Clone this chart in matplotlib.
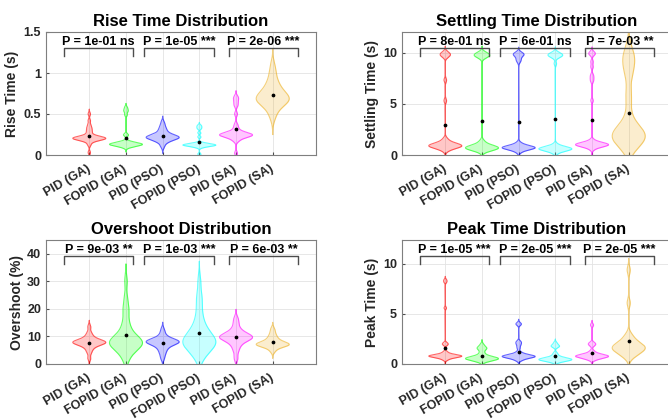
import numpy as np
import matplotlib.pyplot as plt
import matplotlib.transforms as mtransforms

plt.rcParams['font.family'] = ['Liberation Sans', 'DejaVu Sans']
plt.rcParams['font.weight'] = 'bold'
plt.rcParams['axes.labelweight'] = 'bold'
plt.rcParams['axes.titleweight'] = 'bold'

controllers = ['PID (GA)', 'FOPID (GA)', 'PID (PSO)', 'FOPID (PSO)', 'PID (SA)', 'FOPID (SA)']
colors = [(1, 0, 0), (0, 1, 0), (0, 0, 1), (0, 1, 1), (1, 0, 1), (0.93, 0.69, 0.13)]

# samples (one list per controller)
rise_time = [
    [0.03, 0.12, 0.15, 0.17, 0.18, 0.18, 0.19, 0.19, 0.19, 0.20, 0.20, 0.20, 0.20, 0.21, 0.21,
     0.21, 0.21, 0.22, 0.22, 0.22, 0.23, 0.24, 0.26, 0.28, 0.30, 0.32, 0.34, 0.37, 0.42, 0.50],
    [0.09, 0.10, 0.11, 0.11, 0.12, 0.12, 0.12, 0.13, 0.13, 0.13, 0.13, 0.13, 0.14, 0.14, 0.14,
     0.15, 0.15, 0.16, 0.17, 0.24, 0.25, 0.49, 0.53, 0.55, 0.58],
    [0.10, 0.14, 0.16, 0.17, 0.18, 0.19, 0.20, 0.20, 0.21, 0.21, 0.21, 0.22, 0.22, 0.22, 0.23,
     0.23, 0.24, 0.25, 0.26, 0.27, 0.29, 0.31, 0.33, 0.36, 0.40],
    [0.01, 0.09, 0.10, 0.11, 0.11, 0.11, 0.12, 0.12, 0.12, 0.12, 0.12, 0.13, 0.13, 0.13, 0.14,
     0.14, 0.15, 0.22, 0.27, 0.32, 0.34, 0.36],
    [0.02, 0.17, 0.19, 0.21, 0.22, 0.23, 0.23, 0.24, 0.24, 0.24, 0.25, 0.25, 0.25, 0.26, 0.26,
     0.27, 0.28, 0.30, 0.33, 0.37, 0.50, 0.60, 0.64, 0.68, 0.71],
    [0.45, 0.52, 0.56, 0.60, 0.62, 0.64, 0.65, 0.66, 0.67, 0.68, 0.69, 0.70, 0.71, 0.72, 0.74,
     0.76, 0.78, 0.80, 0.83, 0.86, 0.90, 0.95, 1.02, 1.10],
]
settling_time = [
    [0.40, 0.55, 0.65, 0.70, 0.75, 0.80, 0.82, 0.85, 0.88, 0.90, 0.92, 0.95, 0.98, 1.00, 1.05,
     1.10, 1.15, 1.25, 1.40, 1.60, 5.3, 7.3, 9.6, 9.7, 9.8, 9.9, 10.0],
    [0.30, 0.40, 0.50, 0.55, 0.58, 0.60, 0.62, 0.65, 0.68, 0.70, 0.72, 0.75, 0.78, 0.80, 0.85,
     0.90, 0.95, 1.05, 1.20, 1.40, 9.5, 9.6, 9.7, 9.7, 9.8, 9.8, 9.9, 10.0],
    [0.25, 0.40, 0.50, 0.55, 0.60, 0.63, 0.66, 0.68, 0.69, 0.70, 0.72, 0.74, 0.76, 0.78, 0.80,
     0.84, 0.88, 0.95, 1.05, 1.20, 9.1, 9.3, 9.5, 9.7, 9.8, 9.8, 9.9, 10.0],
    [0.15, 0.30, 0.40, 0.45, 0.50, 0.52, 0.55, 0.56, 0.58, 0.60, 0.62, 0.64, 0.66, 0.68, 0.70,
     0.74, 0.80, 0.90, 1.05, 8.9, 9.5, 9.6, 9.7, 9.7, 9.8, 9.8, 9.9, 10.0],
    [0.55, 0.70, 0.80, 0.85, 0.90, 0.93, 0.96, 0.98, 1.00, 1.00, 1.02, 1.04, 1.06, 1.08, 1.10,
     1.15, 1.20, 1.30, 1.45, 5.3, 7.2, 7.5, 7.8, 8.6, 9.1, 9.8, 9.9, 10.0],
    [0.5, 0.8, 1.0, 1.2, 1.4, 1.5, 1.6, 1.7, 1.8, 1.9, 1.9, 2.0, 2.0, 2.1, 2.2, 2.3, 2.5, 2.8,
     3.2, 3.6, 4.8, 5.9, 6.1, 7.9, 8.2, 8.4, 9.2, 9.4, 9.6, 9.8, 10.4],
]
overshoot = [
    [2.0, 4.0, 5.0, 5.8, 6.3, 6.7, 7.0, 7.2, 7.4, 7.6, 7.7, 7.8, 7.9, 8.0, 8.1, 8.2, 8.4, 8.6,
     8.9, 9.3, 9.8, 10.5, 11.5, 13.5],
    [1.0, 3.0, 4.0, 5.0, 5.5, 6.0, 6.5, 7.0, 7.3, 7.5, 7.6, 7.9, 8.0, 8.2, 8.5, 9.0, 9.5, 10.0,
     10.8, 11.8, 13.0, 14.5, 16.5, 19.5, 20.5, 24.0, 30.0],
    [2.0, 3.5, 4.5, 5.3, 6.0, 6.5, 6.9, 7.2, 7.5, 7.7, 7.9, 8.0, 8.1, 8.2, 8.3, 8.5, 8.7, 9.0,
     9.4, 10.0, 11.0, 12.5],
    [1.5, 3.0, 4.0, 5.0, 5.8, 6.0, 6.5, 7.0, 7.4, 7.8, 8.0, 8.2, 8.6, 9.0, 9.5, 10.0, 10.6,
     11.3, 12.0, 13.0, 14.0, 15.5, 17.5, 20.0, 23.0, 25.0, 30.0],
    [2.0, 4.5, 6.0, 7.0, 7.8, 8.4, 8.8, 9.1, 9.3, 9.5, 9.7, 9.9, 10.1, 10.3, 10.6, 11.0, 11.5,
     12.2, 13.2, 14.8, 16.5],
    [4.5, 5.5, 6.0, 6.4, 6.6, 6.8, 6.9, 7.0, 7.1, 7.2, 7.3, 7.5, 7.7, 8.0, 8.3, 8.7, 9.2, 9.8,
     10.5, 11.5, 12.8],
]
peak_time = [
    [0.40, 0.50, 0.58, 0.64, 0.68, 0.70, 0.72, 0.74, 0.75, 0.77, 0.79, 0.80, 0.81, 0.83, 0.85,
     0.86, 0.88, 0.90, 0.95, 1.02, 1.10, 1.25, 1.9, 2.0, 2.1, 5.6, 8.2, 8.4],
    [0.20, 0.30, 0.36, 0.40, 0.44, 0.47, 0.50, 0.52, 0.54, 0.56, 0.58, 0.60, 0.63, 0.66, 0.70,
     0.76, 0.85, 1.00, 1.20, 1.45, 1.55, 1.62, 1.70, 1.95],
    [0.35, 0.45, 0.55, 0.62, 0.66, 0.68, 0.70, 0.73, 0.75, 0.77, 0.79, 0.80, 0.82, 0.85, 0.90,
     0.96, 1.05, 1.20, 1.60, 1.90, 2.10, 2.25, 3.95, 4.05],
    [0.15, 0.25, 0.30, 0.34, 0.37, 0.40, 0.42, 0.44, 0.46, 0.48, 0.50, 0.53, 0.56, 0.60, 0.66,
     0.75, 0.90, 1.10, 1.70, 1.80, 1.85, 2.10],
    [0.40, 0.50, 0.58, 0.64, 0.68, 0.71, 0.74, 0.76, 0.78, 0.80, 0.82, 0.85, 0.88, 0.93, 1.00,
     1.10, 1.30, 1.85, 2.0, 2.1, 3.9],
    [0.60, 0.85, 1.00, 1.15, 1.25, 1.35, 1.45, 1.52, 1.58, 1.64, 1.70, 1.78, 1.86, 1.95, 2.05,
     2.20, 2.40, 2.65, 2.95, 6.1, 9.4],
]

titles = ['Rise Time Distribution', 'Settling Time Distribution',
          'Overshoot Distribution', 'Peak Time Distribution']
ylabels = ['Rise Time (s)', 'Settling Time (s)', 'Overshoot (%)', 'Peak Time (s)']
p_labels = [
    ['P = 1e-01 ns', 'P = 1e-05 ***', 'P = 2e-06 ***'],
    ['P = 8e-01 ns', 'P = 6e-01 ns', 'P = 7e-03 **'],
    ['P = 9e-03 **', 'P = 1e-03 ***', 'P = 6e-03 **'],
    ['P = 1e-05 ***', 'P = 2e-05 ***', 'P = 2e-05 ***'],
]
ytop = [1.5, 12, 45, 12.4]
yticks = [[0, 0.5, 1, 1.5], [0, 5, 10], [0, 10, 20, 30, 40], [0, 5, 10]]
ytick_labels = [['0', '0.5', '1', '1.5'], ['0', '5', '10'],
                ['0', '10', '20', '30', '40'], ['0', '5', '10']]
all_data = [rise_time, settling_time, overshoot, peak_time]

# layout (pixels of a 668x420 figure)
W, H = 668, 420
axes_px = [(46, 32, 270, 123), (402, 32, 270, 123), (46, 240, 270, 124), (402, 240, 270, 124)]
ylabel_x = [12, 372, 17, 372]
bracket_x = [(0.31, 2.19), (2.49, 4.41), (4.80, 6.70)]


def kde_outline(x):
    # ksdensity-like: normal kernel, MAD based bandwidth
    x = np.asarray(x, float)
    n = len(x)
    sig = np.median(np.abs(x - np.median(x))) / 0.6745
    bw = sig * (4.0 / (3.0 * n)) ** 0.2
    grid = np.linspace(x.min() - 3 * bw, x.max() + 3 * bw, 300)
    dens = np.exp(-0.5 * ((grid[:, None] - x[None, :]) / bw) ** 2).sum(axis=1)
    return grid, dens / dens.max()


fig = plt.figure(figsize=(W / 100, H / 100), dpi=100)
fig.patch.set_facecolor('white')
pos = np.arange(1, 7)

for k in range(4):
    l, t, w, h = axes_px[k]
    ax = fig.add_axes([l / W, 1 - (t + h) / H, w / W, h / H])
    ax.set_axisbelow(True)
    ax.grid(True, color='#e3e3e3', lw=0.6)
    for i, vals in enumerate(all_data[k]):
        grid, d = kde_outline(vals)
        hw = d * 0.45
        ax.fill_betweenx(grid, pos[i] - hw, pos[i] + hw, color=colors[i], alpha=0.22, lw=0)
        ax.plot(np.r_[pos[i] - hw, (pos[i] + hw)[::-1]], np.r_[grid, grid[::-1]],
                color=colors[i], alpha=0.6, lw=0.8)
        ax.plot(pos[i], np.mean(vals), 'o', color='k', markersize=1.7)
    top = ytop[k]
    for j, (x0, x1) in enumerate(bracket_x):
        ax.plot([x0, x0, x1, x1], [0.805 * top, 0.872 * top, 0.872 * top, 0.805 * top],
                color='#4d4d4d', lw=1)
        ax.text((x0 + x1) / 2, 0.897 * top, p_labels[k][j], ha='center', va='baseline',
                fontsize=9, fontweight='bold')
    ax.set_xlim(-0.18, 7.18)
    ax.set_ylim(0, top)
    ax.set_yticks(yticks[k])
    ax.set_yticklabels(ytick_labels[k])
    ax.set_xticks(pos)
    ax.set_xticklabels(controllers, rotation=30, ha='right', va='center',
                       rotation_mode='anchor')
    offset = mtransforms.ScaledTranslation(5 / 100, 0, fig.dpi_scale_trans)
    for lab in ax.get_xticklabels():
        lab.set_transform(lab.get_transform() + offset)
    ax.tick_params(axis='x', direction='in', length=2, pad=9.5, labelsize=9,
                   colors='#4d4d4d', labelcolor='#262626')
    ax.tick_params(axis='y', direction='in', length=2, pad=3.5, labelsize=9,
                   colors='#4d4d4d', labelcolor='#262626')
    for sp in ax.spines.values():
        sp.set_color('#7f7f7f')
        sp.set_linewidth(0.8)
    ax.set_title(titles[k], fontsize=12, fontweight='bold', pad=4)
    ax.set_ylabel(ylabels[k], fontsize=10, fontweight='bold', va='center', color='#262626')
    ax.yaxis.set_label_coords((ylabel_x[k] - l) / w, 0.5)

fig.savefig('out.png', dpi=100)
